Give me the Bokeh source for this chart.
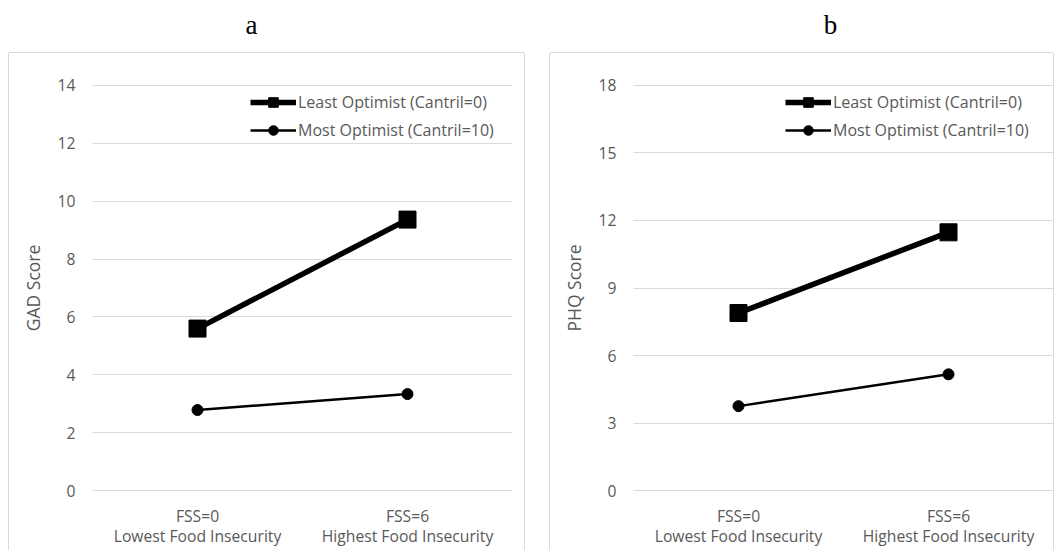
from bokeh.plotting import figure
from bokeh.models import Range1d, FixedTicker, Legend, LegendItem, Label, Spacer
from bokeh.layouts import row, column
from bokeh.embed import file_html
from bokeh.resources import INLINE

# ---- data ----
categories = ["FSS=0\nLowest Food Insecurity", "FSS=6\nHighest Food Insecurity"]
series_names = ["Least Optimist (Cantril=0)", "Most Optimist (Cantril=10)"]
gad_least = [5.60, 9.36]
gad_most = [2.79, 3.34]
phq_least = [7.89, 11.47]
phq_most = [3.76, 5.17]
gad_ticks = [0, 2, 4, 6, 8, 10, 12, 14]
phq_ticks = [0, 3, 6, 9, 12, 15, 18]
panel_titles = ["a", "b"]
y_titles = ["GAD Score", "PHQ Score"]

FONT = "Open Sans"
GRAY = "#595959"
GRID = "#d9d9d9"
TITLE_H = 53
PANEL_H = 497
BOX_SHADOW = "-1px 0 0 0 #d9d9d9, 1px 0 0 0 #d9d9d9, 0 -1px 0 0 #d9d9d9"


def make_panel(ytitle, least, most, yticks, width, border_right, legend_x):
    xs = [i + 0.5 for i in range(len(categories))]
    ymax = yticks[-1]
    pad = ymax * 0.0015
    p = figure(width=width, height=PANEL_H, output_backend="svg", toolbar_location=None,
               title=None,
               x_range=Range1d(0, len(categories)), y_range=Range1d(-pad, ymax + pad),
               min_border_left=83, min_border_right=border_right,
               min_border_top=31, min_border_bottom=59)
    p.outline_line_color = None
    p.background_fill_color = "white"
    p.border_fill_color = "white"
    p.xgrid.visible = False
    p.ygrid.grid_line_color = GRID
    p.ygrid.grid_line_width = 1
    p.styles = {"box-shadow": BOX_SHADOW}

    # axes
    p.yaxis.ticker = FixedTicker(ticks=yticks)
    p.xaxis.ticker = FixedTicker(ticks=xs)
    p.xaxis.major_label_overrides = {x: c for x, c in zip(xs, categories)}
    for ax in (p.xaxis, p.yaxis):
        ax.axis_line_color = None
        ax.major_tick_line_color = None
        ax.minor_tick_line_color = None
        ax.major_tick_out = 0
        ax.major_tick_in = 0
        ax.minor_tick_out = 0
        ax.major_label_text_font = FONT
        ax.major_label_text_font_size = "15.7px"
        ax.major_label_text_color = GRAY
    p.yaxis.major_label_standoff = 17
    p.xaxis.major_label_standoff = 13
    p.xaxis.major_label_text_line_height = 0.95
    p.yaxis.axis_label = ytitle
    p.yaxis.axis_label_text_font = FONT
    p.yaxis.axis_label_text_font_size = "17.5px"
    p.yaxis.axis_label_text_font_style = "normal"
    p.yaxis.axis_label_text_color = GRAY
    p.yaxis.axis_label_standoff = 10

    # series
    l1 = p.line(xs, least, line_color="black", line_width=5.5)
    s1 = p.scatter(xs, least, marker="square", size=17, fill_color="black", line_color="black")
    l2 = p.line(xs, most, line_color="black", line_width=2.5)
    s2 = p.scatter(xs, most, marker="circle", size=11, fill_color="black", line_color="black")

    legend = Legend(items=[LegendItem(label=series_names[0], renderers=[l1, s1]),
                           LegendItem(label=series_names[1], renderers=[l2, s2])],
                    location=(legend_x, 349), orientation="vertical",
                    padding=0, margin=0, spacing=4,
                    glyph_width=46, glyph_height=24, label_height=24, label_standoff=2,
                    label_text_font=FONT, label_text_font_size="16px",
                    label_text_color=GRAY, border_line_color=None,
                    background_fill_alpha=0)
    p.add_layout(legend)
    return p


# title strip with the panel letters
TITLE_W = 1053
tf = figure(width=TITLE_W, height=TITLE_H, output_backend="svg", toolbar_location=None,
            title=None,
            x_range=Range1d(0, TITLE_W), y_range=Range1d(TITLE_H, 0),
            x_axis_type=None, y_axis_type=None, min_border=0)
tf.grid.visible = False
tf.outline_line_color = None
for txt, tx in zip(panel_titles, [251, 830]):
    tf.add_layout(Label(x=tx, y=24, text=txt, text_font="Liberation Serif",
                        text_font_size="27px", text_color="black",
                        text_align="center", text_baseline="alphabetic"))

pa = make_panel(y_titles[0], gad_least, gad_most, gad_ticks,
                width=515, border_right=12, legend_x=158)
pb = make_panel(y_titles[1], phq_least, phq_most, phq_ticks,
                width=503, border_right=0, legend_x=152)

layout = column(tf,
                row(Spacer(width=9, height=PANEL_H), pa,
                    Spacer(width=26, height=PANEL_H), pb))
open("out.html", "w").write(file_html(layout, INLINE))
